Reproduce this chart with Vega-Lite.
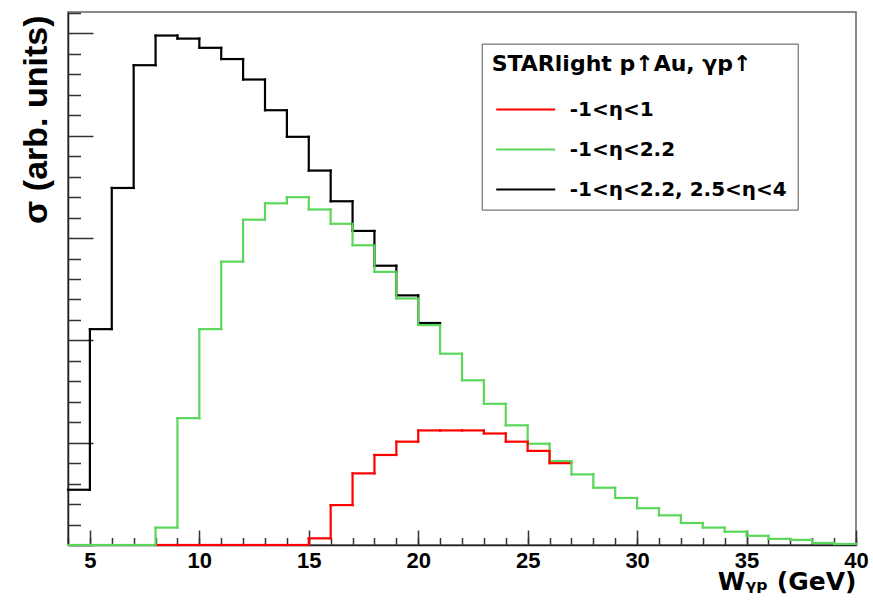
{
  "$schema": "https://vega.github.io/schema/vega-lite/v6.json",
  "width": 788,
  "height": 533,
  "autosize": {"type": "none"},
  "padding": {"left": 68, "top": 12, "right": 17, "bottom": 62},
  "background": "white",
  "config": {"view": {"stroke": "#666", "strokeWidth": 1.5}, "axis": {"grid": false}},
  "data": {"values": [
    {"s": "-1<η<2.2, 2.5<η<4", "lo": 4, "hi": 5, "v": 0.54},
    {"s": "-1<η<2.2, 2.5<η<4", "lo": 5, "hi": 6, "v": 2.11},
    {"s": "-1<η<2.2, 2.5<η<4", "lo": 6, "hi": 7, "v": 3.49},
    {"s": "-1<η<2.2, 2.5<η<4", "lo": 7, "hi": 8, "v": 4.69},
    {"s": "-1<η<2.2, 2.5<η<4", "lo": 8, "hi": 9, "v": 4.98},
    {"s": "-1<η<2.2, 2.5<η<4", "lo": 9, "hi": 10, "v": 4.95},
    {"s": "-1<η<2.2, 2.5<η<4", "lo": 10, "hi": 11, "v": 4.86},
    {"s": "-1<η<2.2, 2.5<η<4", "lo": 11, "hi": 12, "v": 4.75},
    {"s": "-1<η<2.2, 2.5<η<4", "lo": 12, "hi": 13, "v": 4.55},
    {"s": "-1<η<2.2, 2.5<η<4", "lo": 13, "hi": 14, "v": 4.25},
    {"s": "-1<η<2.2, 2.5<η<4", "lo": 14, "hi": 15, "v": 3.99},
    {"s": "-1<η<2.2, 2.5<η<4", "lo": 15, "hi": 16, "v": 3.66},
    {"s": "-1<η<2.2, 2.5<η<4", "lo": 16, "hi": 17, "v": 3.36},
    {"s": "-1<η<2.2, 2.5<η<4", "lo": 17, "hi": 18, "v": 3.07},
    {"s": "-1<η<2.2, 2.5<η<4", "lo": 18, "hi": 19, "v": 2.73},
    {"s": "-1<η<2.2, 2.5<η<4", "lo": 19, "hi": 20, "v": 2.44},
    {"s": "-1<η<2.2, 2.5<η<4", "lo": 20, "hi": 21, "v": 2.17},
    {"s": "-1<η<2.2", "lo": 4, "hi": 5, "v": 0},
    {"s": "-1<η<2.2", "lo": 5, "hi": 6, "v": 0},
    {"s": "-1<η<2.2", "lo": 6, "hi": 7, "v": 0},
    {"s": "-1<η<2.2", "lo": 7, "hi": 8, "v": 0},
    {"s": "-1<η<2.2", "lo": 8, "hi": 9, "v": 0.17},
    {"s": "-1<η<2.2", "lo": 9, "hi": 10, "v": 1.24},
    {"s": "-1<η<2.2", "lo": 10, "hi": 11, "v": 2.11},
    {"s": "-1<η<2.2", "lo": 11, "hi": 12, "v": 2.77},
    {"s": "-1<η<2.2", "lo": 12, "hi": 13, "v": 3.18},
    {"s": "-1<η<2.2", "lo": 13, "hi": 14, "v": 3.34},
    {"s": "-1<η<2.2", "lo": 14, "hi": 15, "v": 3.40},
    {"s": "-1<η<2.2", "lo": 15, "hi": 16, "v": 3.28},
    {"s": "-1<η<2.2", "lo": 16, "hi": 17, "v": 3.14},
    {"s": "-1<η<2.2", "lo": 17, "hi": 18, "v": 2.93},
    {"s": "-1<η<2.2", "lo": 18, "hi": 19, "v": 2.67},
    {"s": "-1<η<2.2", "lo": 19, "hi": 20, "v": 2.41},
    {"s": "-1<η<2.2", "lo": 20, "hi": 21, "v": 2.15},
    {"s": "-1<η<2.2", "lo": 21, "hi": 22, "v": 1.87},
    {"s": "-1<η<2.2", "lo": 22, "hi": 23, "v": 1.61},
    {"s": "-1<η<2.2", "lo": 23, "hi": 24, "v": 1.38},
    {"s": "-1<η<2.2", "lo": 24, "hi": 25, "v": 1.17},
    {"s": "-1<η<2.2", "lo": 25, "hi": 26, "v": 0.99},
    {"s": "-1<η<2.2", "lo": 26, "hi": 27, "v": 0.82},
    {"s": "-1<η<2.2", "lo": 27, "hi": 28, "v": 0.69},
    {"s": "-1<η<2.2", "lo": 28, "hi": 29, "v": 0.56},
    {"s": "-1<η<2.2", "lo": 29, "hi": 30, "v": 0.46},
    {"s": "-1<η<2.2", "lo": 30, "hi": 31, "v": 0.36},
    {"s": "-1<η<2.2", "lo": 31, "hi": 32, "v": 0.29},
    {"s": "-1<η<2.2", "lo": 32, "hi": 33, "v": 0.215},
    {"s": "-1<η<2.2", "lo": 33, "hi": 34, "v": 0.17},
    {"s": "-1<η<2.2", "lo": 34, "hi": 35, "v": 0.13},
    {"s": "-1<η<2.2", "lo": 35, "hi": 36, "v": 0.09},
    {"s": "-1<η<2.2", "lo": 36, "hi": 37, "v": 0.06},
    {"s": "-1<η<2.2", "lo": 37, "hi": 38, "v": 0.05},
    {"s": "-1<η<2.2", "lo": 38, "hi": 39, "v": 0.02},
    {"s": "-1<η<2.2", "lo": 39, "hi": 40, "v": 0.01},
    {"s": "-1<η<1", "lo": 8, "hi": 9, "v": 0},
    {"s": "-1<η<1", "lo": 9, "hi": 10, "v": 0},
    {"s": "-1<η<1", "lo": 10, "hi": 11, "v": 0},
    {"s": "-1<η<1", "lo": 11, "hi": 12, "v": 0},
    {"s": "-1<η<1", "lo": 12, "hi": 13, "v": 0},
    {"s": "-1<η<1", "lo": 13, "hi": 14, "v": 0},
    {"s": "-1<η<1", "lo": 14, "hi": 15, "v": 0},
    {"s": "-1<η<1", "lo": 15, "hi": 16, "v": 0.065},
    {"s": "-1<η<1", "lo": 16, "hi": 17, "v": 0.39},
    {"s": "-1<η<1", "lo": 17, "hi": 18, "v": 0.70},
    {"s": "-1<η<1", "lo": 18, "hi": 19, "v": 0.88},
    {"s": "-1<η<1", "lo": 19, "hi": 20, "v": 1.01},
    {"s": "-1<η<1", "lo": 20, "hi": 21, "v": 1.12},
    {"s": "-1<η<1", "lo": 21, "hi": 22, "v": 1.12},
    {"s": "-1<η<1", "lo": 22, "hi": 23, "v": 1.12},
    {"s": "-1<η<1", "lo": 23, "hi": 24, "v": 1.09},
    {"s": "-1<η<1", "lo": 24, "hi": 25, "v": 1.01},
    {"s": "-1<η<1", "lo": 25, "hi": 26, "v": 0.92},
    {"s": "-1<η<1", "lo": 26, "hi": 27, "v": 0.80}
  ]},
  "resolve": {"axis": {"x": "independent", "y": "independent"}},
  "layer": [
    {
      "mark": {"type": "rule", "strokeWidth": 2.2, "strokeCap": "square"},
      "encoding": {
        "x": {"field": "lo", "type": "quantitative",
          "scale": {"domain": [4, 40], "nice": false, "zero": false},
          "axis": {"orient": "bottom", "values": [5, 10, 15, 20, 25, 30, 35, 40],
            "tickSize": -15, "tickWidth": 1.5, "tickColor": "#333",
            "domainColor": "#222", "domainWidth": 1.5,
            "labelFont": "Liberation Sans", "labelFontWeight": "bold", "labelFontSize": 22,
            "labelColor": "#000", "labelPadding": 20, "labelFlush": false,
            "title": "Wᵧₚ (GeV)", "titleFont": "DejaVu Sans", "titleFontSize": 25,
            "titleFontWeight": "bold", "titleColor": "#000", "titleAnchor": "end",
            "titleAlign": "right", "titleBaseline": "alphabetic", "titleX": 788, "titleY": 44}},
        "x2": {"field": "hi"},
        "y": {"field": "v", "type": "quantitative",
          "scale": {"domain": [0, 5.21], "nice": false},
          "axis": {"orient": "left", "values": [0, 1, 2, 3, 4, 5], "tickSize": -25,
            "tickWidth": 1.5, "tickColor": "#333", "domainColor": "#222", "domainWidth": 1.5,
            "labels": false,
            "title": "σ (arb. units)", "titleFont": "Liberation Sans", "titleFontSize": 34,
            "titleFontWeight": "bold", "titleColor": "#000", "titleAngle": 270,
            "titleAlign": "right", "titleBaseline": "alphabetic", "titleX": -22, "titleY": 3}},
        "color": {"field": "s", "type": "nominal",
          "scale": {"domain": ["-1<η<1", "-1<η<2.2", "-1<η<2.2, 2.5<η<4"], "range": ["#ff0000", "#5bd75b", "#000000"]},
          "legend": {"orient": "none", "legendX": 413.7, "legendY": 31.6, "direction": "vertical",
            "title": "STARlight p↑Au, γp↑", "titleFont": "DejaVu Sans", "titleFontSize": 22,
            "titleFontWeight": "bold", "titleColor": "#000", "titlePadding": 18, "titleLimit": 600,
            "labelFont": "DejaVu Sans", "labelFontSize": 20, "labelFontWeight": "bold",
            "labelColor": "#000", "labelLimit": 600,
            "symbolType": "M-2,0H2", "symbolSize": 870, "symbolStrokeWidth": 2,
            "symbolOffset": 18, "labelOffset": 28, "rowPadding": 14, "padding": 10,
            "strokeColor": "#555", "fillColor": "#ffffff"}}
      }
    },
    {
      "transform": [
        {"window": [{"op": "lag", "field": "v", "as": "prev"}], "groupby": ["s"], "sort": [{"field": "lo"}]},
        {"filter": "datum.prev != null"}
      ],
      "mark": {"type": "rule", "strokeWidth": 2.2, "strokeCap": "square"},
      "encoding": {
        "x": {"field": "lo", "type": "quantitative",
          "axis": {"orient": "bottom", "values": [4, 5, 6, 7, 8, 9, 10, 11, 12, 13, 14, 15, 16, 17, 18, 19, 20, 21, 22, 23, 24, 25, 26, 27, 28, 29, 30, 31, 32, 33, 34, 35, 36, 37, 38, 39, 40],
            "tickSize": -7.5, "tickWidth": 1.5, "tickColor": "#333", "domain": false, "labels": false, "title": null}},
        "y": {"field": "prev", "type": "quantitative",
          "axis": {"orient": "left", "values": [0.2, 0.4, 0.6, 0.8, 1.2, 1.4, 1.6, 1.8, 2.2, 2.4, 2.6, 2.8, 3.2, 3.4, 3.6, 3.8, 4.2, 4.4, 4.6, 4.8, 5.2],
            "tickSize": -12.5, "tickWidth": 1.5, "tickColor": "#333", "domain": false, "labels": false, "title": null}},
        "y2": {"field": "v"},
        "color": {"field": "s", "type": "nominal"}
      }
    }
  ]
}
